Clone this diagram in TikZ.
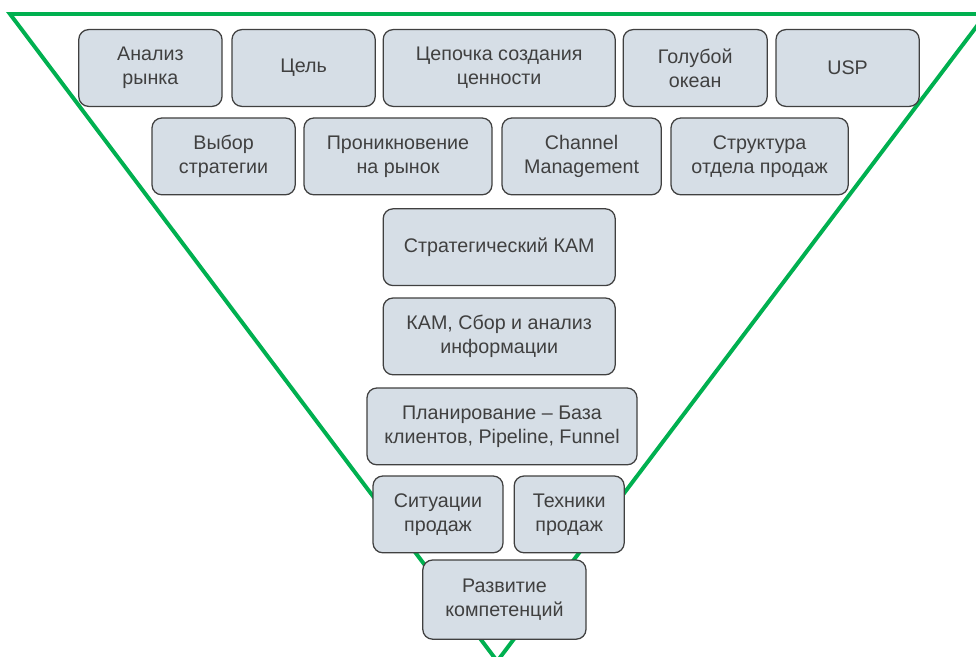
\documentclass[tikz,border=0pt]{standalone}
\usepackage{fontspec}
\setmainfont{Liberation Sans}
\usepackage{tikz}
\usetikzlibrary{positioning}
\definecolor{funnelgreen}{RGB}{0,176,80}
\definecolor{boxfill}{RGB}{214,222,230}
\definecolor{boxdraw}{RGB}{64,64,64}
\definecolor{boxtext}{RGB}{64,64,64}

\begin{document}
\begin{tikzpicture}[
  font=\fontsize{14}{17}\selectfont,
  topic/.style={draw=boxdraw, fill=boxfill, rounded corners=7pt, align=center,
              line width=0.9pt, text=boxtext, minimum height=1.92cm, inner sep=2pt},
  funnel/.style={draw=funnelgreen, line width=2.8pt}
]
\useasboundingbox (0,0) rectangle (24.4,-16.4);
\begin{scope}
\clip (0,0) rectangle (24.4,-16.4);
\draw[funnel] (0.25,-0.35) -- (24.65,-0.35) -- (12.43,-16.53) -- cycle;
\end{scope}

\node[topic, minimum width=3.58cm] (anal)   at (3.76,-1.70)  {Анализ\\рынка};
\node[topic, minimum width=3.58cm] (goal)   at (7.59,-1.70)  {Цель};
\node[topic, minimum width=5.80cm] (chain)  at (12.48,-1.70) {Цепочка создания\\ценности};
\node[topic, minimum width=3.60cm] (ocean)  at (17.38,-1.70) {Голубой\\океан};
\node[topic, minimum width=3.58cm] (usp)    at (21.19,-1.70) {USP};

\node[topic, minimum width=3.58cm] (strat)  at (5.59,-3.91)  {Выбор\\стратегии};
\node[topic, minimum width=4.70cm] (pen)    at (9.95,-3.91)  {Проникновение\\на рынок};
\node[topic, minimum width=3.98cm] (chan)   at (14.54,-3.91) {Channel\\Management};
\node[topic, minimum width=4.43cm] (struct) at (18.99,-3.91) {Структура\\отдела продаж};

\node[topic, minimum width=5.80cm] (skam)   at (12.48,-6.18) {Стратегический КАМ};
\node[topic, minimum width=5.80cm] (info)   at (12.48,-8.41) {КАМ, Сбор и анализ\\информации};
\node[topic, minimum width=6.75cm] (plan)   at (12.55,-10.66) {Планирование -- База\\клиентов, Pipeline, Funnel};

\node[topic, minimum width=3.25cm] (sit)    at (10.95,-12.86) {Ситуации\\продаж};
\node[topic, minimum width=2.75cm] (tech)   at (14.23,-12.86) {Техники\\продаж};
\node[topic, minimum width=4.08cm, minimum height=1.98cm] (dev) at (12.61,-14.99) {Развитие\\компетенций};
\end{tikzpicture}
\end{document}
